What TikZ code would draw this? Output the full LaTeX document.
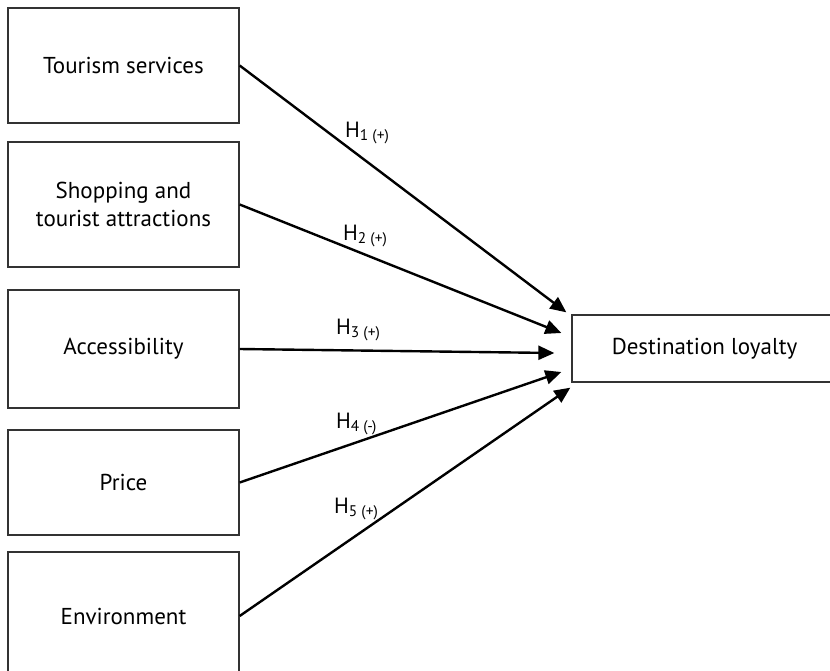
\documentclass[tikz,border=0pt]{standalone}
\usepackage{fontspec}
\setmainfont{PT Sans}
\usetikzlibrary{arrows.meta}

\tikzset{
  factor/.style={draw=black!80, line width=1.3pt, minimum width=231pt,
                 align=center, font=\fontsize{23}{28}\selectfont},
  outcome/.style={draw=black!80, line width=1.3pt, minimum width=265pt,
                  minimum height=67pt, font=\fontsize{23}{28}\selectfont},
  hyp/.style={-{Triangle[length=16pt,width=14pt]}, line width=2.4pt},
  hlabel/.style={anchor=base west, inner sep=0pt, font=\fontsize{22}{26}\selectfont}
}

\begin{document}
\begin{tikzpicture}[x=1pt, y=-1pt]

\useasboundingbox (0,0) rectangle (830,670);

% independent variables
\foreach \i/\y/\h/\txt in%
    {1/65.5/115/{Tourism services},
     2/204.5/125/{Shopping and\\tourist attractions},
     3/349/118/{Accessibility},
     4/482.5/105/{Price},
     5/616/128/{Environment}} {
  \node[factor, minimum height=\h] (f_\i) at (123.5, \y) {\txt};
}

% dependent variable
\node[outcome] (dl) at (704.5, 348.5) {Destination loyalty};

% arrow ends, near the left side of dl
\coordinate (tip_1) at ([xshift=-5pt, yshift=2pt]dl.north west);
\coordinate (tip_2) at ([xshift=-10pt, yshift=15.5pt]dl.west);
\coordinate (tip_3) at ([xshift=-17pt, yshift=-4.5pt]dl.west);
\coordinate (tip_4) at ([xshift=-10pt, yshift=-23.5pt]dl.west);
\coordinate (tip_5) at ([xshift=-1pt, yshift=-5pt]dl.south west);

\foreach \i/\s/\lx/\ly in%
    {1/+/345/137,
     2/+/343/240,
     3/+/336/334,
     4/-/336/428,
     5/+/334/513} {
  \draw[hyp] (f_\i.east) -- (tip_\i);
  \node[hlabel] (h_\i) at (\lx, \ly) {H\textsubscript{\i\ (\s)}};
}

\end{tikzpicture}
\end{document}
